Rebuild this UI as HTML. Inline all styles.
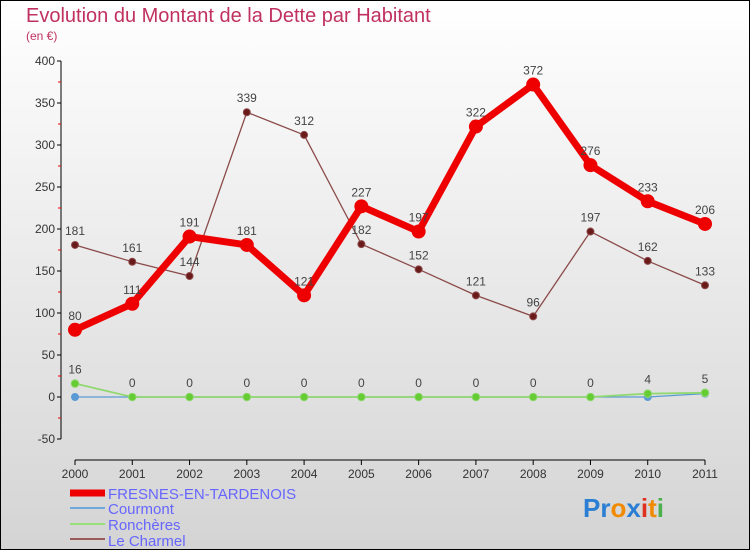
<!DOCTYPE html>
<html><head><meta charset="utf-8"><style>
body{margin:0}
svg text{font-family:"Liberation Sans",sans-serif}
</style></head><body>
<svg id="c" width="750" height="550" xmlns="http://www.w3.org/2000/svg">
<defs><linearGradient id="bg" x1="0" y1="0" x2="0" y2="1"><stop offset="0" stop-color="#ffffff"/><stop offset="1" stop-color="#d4d4d4"/></linearGradient></defs>
<rect x="0.5" y="0.5" width="749" height="549" fill="url(#bg)" stroke="#000"/>
<text x="26" y="22" font-size="20" fill="#c0315f">Evolution du Montant de la Dette par Habitant</text>
<text x="26" y="40" font-size="12" fill="#c0315f">(en €)</text>
<g id="axes"></g><g id="series"></g>
<g>
<line x1="70" y1="493" x2="105" y2="493" stroke="#e00" stroke-width="7"/>
<text x="108" y="499" font-size="15" fill="#6666ff">FRESNES-EN-TARDENOIS</text>
<line x1="70" y1="508" x2="105" y2="508" stroke="#6fa8dc" stroke-width="2"/>
<text x="108" y="514" font-size="15" fill="#6666ff">Courmont</text>
<line x1="70" y1="524" x2="105" y2="524" stroke="#99e07a" stroke-width="2"/>
<text x="108" y="530" font-size="15" fill="#6666ff">Ronchères</text>
<line x1="70" y1="539" x2="105" y2="539" stroke="#9b5a5a" stroke-width="2"/>
<text x="108" y="546" font-size="15" fill="#6666ff">Le Charmel</text>
</g>
<text x="583" y="517" font-size="26" font-weight="bold"><tspan fill="#2a7fd4">Pr</tspan><tspan fill="#f08a00">o</tspan><tspan fill="#2a7fd4">x</tspan><tspan fill="#e03020">i</tspan><tspan fill="#f08a00">t</tspan><tspan fill="#4caf50">i</tspan></text>
</svg>
<script>
const years=[2000,2001,2002,2003,2004,2005,2006,2007,2008,2009,2010,2011];
const fresnes=[80,111,191,181,121,227,197,322,372,276,233,206];
const courmont=[0,0,0,0,0,0,0,0,0,0,0,4];
const roncheres=[16,0,0,0,0,0,0,0,0,0,4,5];
const charmel=[181,161,144,339,312,182,152,121,96,197,162,133];
const yTicks=[-50,0,50,100,150,200,250,300,350,400];
const NS='http://www.w3.org/2000/svg';
const X=i=>75+i*(630/11), Y=v=>397-v*0.84;
function mk(t,a,p){const e=document.createElementNS(NS,t);for(const k in a)e.setAttribute(k,a[k]);p.appendChild(e);return e;}
const ax=document.getElementById('axes'), sg=document.getElementById('series');
let l=mk('line',{x1:61,y1:Y(400),x2:61,y2:Y(-50),stroke:'#000'},ax);


yTicks.forEach(v=>{mk('line',{x1:57,y1:Y(v),x2:61,y2:Y(v),stroke:'#000'},ax);
 if(v<400)mk('line',{x1:58,y1:Y(v+25),x2:61,y2:Y(v+25),stroke:'#e00'},ax);
 const t=mk('text',{x:55,y:Y(v)+4,'font-size':12,fill:'#333','text-anchor':'end'},ax);t.textContent=v;
 
 });
l=mk('line',{x1:X(0),y1:460,x2:X(11),y2:460,stroke:'#000'},ax);


years.forEach((y,i)=>{mk('line',{x1:X(i),y1:460,x2:X(i),y2:465,stroke:'#000'},ax);
 const t=mk('text',{x:X(i),y:478,'font-size':12,fill:'#333','text-anchor':'middle'},ax);t.textContent=y;
 
 });
function series(d,col,w,r,fill,name,lab){
 const g=mk('g',{},sg);
 
 
 mk('polyline',{points:d.map((v,i)=>X(i)+','+Y(v)).join(' '),fill:'none',stroke:col,'stroke-width':w,'stroke-linejoin':'round'},g);
 d.forEach((v,i)=>{const c=mk('circle',{cx:X(i),cy:Y(v),r:r,fill:fill,stroke:col},g);
  
  
  if(lab){const t=mk('text',{x:X(i),y:Y(v)-10,'font-size':12,fill:'#444','text-anchor':'middle'},g);t.textContent=v;
  
  }});
}
series(charmel,'#8b4a4a',1.3,3.5,'#6b1a1a','le-charmel-series',true);
series(courmont,'#5b9bd5',1.3,3.5,'#5b9bd5','courmont-series',false);
series(roncheres,'#90d870',1.8,3.8,'#66cc33','roncheres-series',true);
series(fresnes,'#ee0000',7,6.5,'#ee0000','fresnes-series',true);
</script>
</body></html>
